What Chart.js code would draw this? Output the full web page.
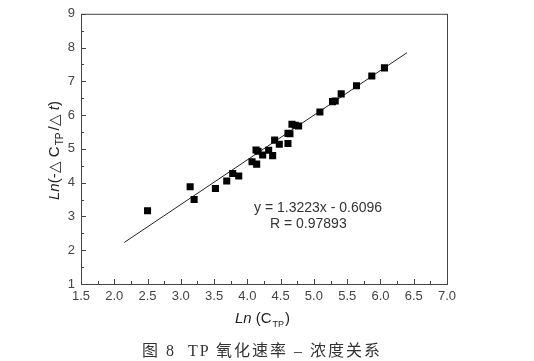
<!DOCTYPE html>
<html>
<head>
<meta charset="utf-8">
<script src="https://cdn.jsdelivr.net/npm/chart.js@4/dist/chart.umd.min.js"></script>
<style>
  body { margin: 0; background: #fff; }
  #wrap { position: relative; width: 534px; height: 361px; }
  #caption {
    position: absolute; left: 0; width: 524px; top: 337px;
    text-align: center; font-family: "Liberation Serif", "Noto Sans CJK SC", serif;
    font-size: 16px; color: #333; white-space: pre; letter-spacing: 2px;
  }
</style>
</head>
<body>
<div id="wrap">
  <canvas id="chart" width="534" height="361"></canvas>
  <div id="caption">图 8  TP 氧化速率 – 浓度关系</div>
</div>
<script>
// measured points: Ln(C_TP) vs Ln(-ΔC_TP/Δt)
const lnC = [2.50, 3.14, 3.20, 3.52, 3.69, 3.78, 3.87, 4.07, 4.14, 4.13, 4.16,
             4.23, 4.32, 4.38, 4.41, 4.48, 4.61, 4.64, 4.67, 4.77, 4.61, 4.72,
             5.09, 5.28, 5.32, 5.41, 5.64, 5.87, 6.06];
const lnRate = [3.17, 3.88, 3.50, 3.83, 4.05, 4.27, 4.20, 4.62, 4.55, 4.97, 4.93,
                4.82, 4.96, 4.80, 5.26, 5.14, 5.16, 5.45, 5.73, 5.68, 5.46, 5.70,
                6.09, 6.40, 6.42, 6.63, 6.87, 7.16, 7.40];

// fitted line y = 1.3223x - 0.6096
const fitX = [2.15, 6.40];
const fitY = [2.23, 7.85];

const xTicks = [1.5, 2.0, 2.5, 3.0, 3.5, 4.0, 4.5, 5.0, 5.5, 6.0, 6.5, 7.0];
const yTicks = [1, 2, 3, 4, 5, 6, 7, 8, 9];

const fitText = "y = 1.3223x - 0.6096";
const rText = "R = 0.97893";

const points = lnC.map((x, i) => ({ x: x, y: lnRate[i] }));
const fitLine = fitX.map((x, i) => ({ x: x, y: fitY[i] }));

const tickFont = { family: "Liberation Sans", size: 13 };

const decor = {
    id: "decor",
    afterDraw(chart) {
        const ctx = chart.ctx;
        const a = chart.chartArea;
        const xs = chart.scales.x;
        const ys = chart.scales.y;
        ctx.save();

        // frame
        ctx.strokeStyle = "#444";
        ctx.lineWidth = 1;
        ctx.strokeRect(a.left + 0.5, a.top + 0.5, a.right - a.left, a.bottom - a.top);

        // inward ticks, major + minor
        ctx.beginPath();
        for (let v = 1.5; v <= 7.0001; v += 0.25) {
            const px = Math.round(xs.getPixelForValue(v)) + 0.5;
            const major = Math.abs(v * 2 - Math.round(v * 2)) < 1e-6;
            ctx.moveTo(px, a.bottom);
            ctx.lineTo(px, a.bottom - (major ? 5 : 3));
        }
        for (let v = 1; v <= 9.0001; v += 0.5) {
            const py = Math.round(ys.getPixelForValue(v)) + 0.5;
            const major = Math.abs(v - Math.round(v)) < 1e-6;
            ctx.moveTo(a.left, py);
            ctx.lineTo(a.left + (major ? 5 : 3), py);
        }
        ctx.stroke();

        ctx.textBaseline = "alphabetic";

        // annotation
        ctx.font = "14px 'Liberation Sans'";
        ctx.fillStyle = "#333";
        ctx.textAlign = "left";
        ctx.fillText(fitText, 254, 212);
        ctx.fillText(rText, 270, 228);

        // x title: Ln (C_TP)
        let x = 235, y = 323;
        ctx.fillStyle = "#222";
        ctx.font = "italic 15px 'Liberation Sans'";
        ctx.fillText("Ln", x, y); x += ctx.measureText("Ln").width + 4;
        ctx.font = "15px 'Liberation Sans'";
        ctx.fillText("(C", x, y); x += ctx.measureText("(C").width + 1;
        ctx.font = "9px 'Liberation Sans'";
        ctx.fillText("TP", x, y + 4); x += ctx.measureText("TP").width + 1;
        ctx.font = "15px 'Liberation Sans'";
        ctx.fillText(")", x, y);

        // y title: Ln(-△ C_TP /△ t), rotated
        ctx.translate(59, 200);
        ctx.rotate(-Math.PI / 2);
        x = 0; y = 0;
        ctx.font = "italic 15px 'Liberation Sans'";
        ctx.fillText("Ln", x, y); x += ctx.measureText("Ln").width;
        ctx.font = "15px 'Liberation Sans'";
        ctx.fillText("(-\u25B3 C", x, y); x += ctx.measureText("(-\u25B3 C").width + 1;
        ctx.font = "10px 'Liberation Sans'";
        ctx.fillText("TP", x, y + 4); x += ctx.measureText("TP").width + 2;
        ctx.font = "15px 'Liberation Sans'";
        ctx.fillText("/\u25B3 ", x, y); x += ctx.measureText("/\u25B3 ").width;
        ctx.font = "italic 15px 'Liberation Sans'";
        ctx.fillText("t", x, y); x += ctx.measureText("t").width;
        ctx.font = "15px 'Liberation Sans'";
        ctx.fillText(")", x, y);

        ctx.restore();
    }
};

new Chart(document.getElementById("chart"), {
    type: "scatter",
    data: {
        datasets: [
            {
                label: "data",
                data: points,
                pointStyle: "rect",
                pointRadius: 5,
                backgroundColor: "#000",
                borderColor: "#000",
                borderWidth: 0
            },
            {
                type: "line",
                label: "fit",
                data: fitLine,
                borderColor: "#222",
                borderWidth: 1,
                pointRadius: 0,
                fill: false
            }
        ]
    },
    options: {
        responsive: false,
        animation: false,
        layout: { padding: { top: 12, right: 87, left: 0, bottom: 0 } },
        plugins: { legend: { display: false }, tooltip: { enabled: false } },
        scales: {
            x: {
                type: "linear",
                min: 1.5, max: 7.0,
                afterBuildTicks: s => { s.ticks = xTicks.map(v => ({ value: v })); },
                afterFit: s => { s.height = 77; },
                grid: { display: false, drawTicks: false },
                border: { display: false },
                ticks: {
                    padding: 5,
                    color: "#444",
                    font: tickFont,
                    callback: v => v.toFixed(1)
                }
            },
            y: {
                type: "linear",
                min: 1, max: 9,
                afterBuildTicks: s => { s.ticks = yTicks.map(v => ({ value: v })); },
                afterFit: s => { s.width = 81; },
                grid: { display: false, drawTicks: false },
                border: { display: false },
                ticks: {
                    padding: 6,
                    color: "#444",
                    font: tickFont,
                    callback: v => String(v)
                }
            }
        }
    },
    plugins: [decor]
});
</script>
</body>
</html>
